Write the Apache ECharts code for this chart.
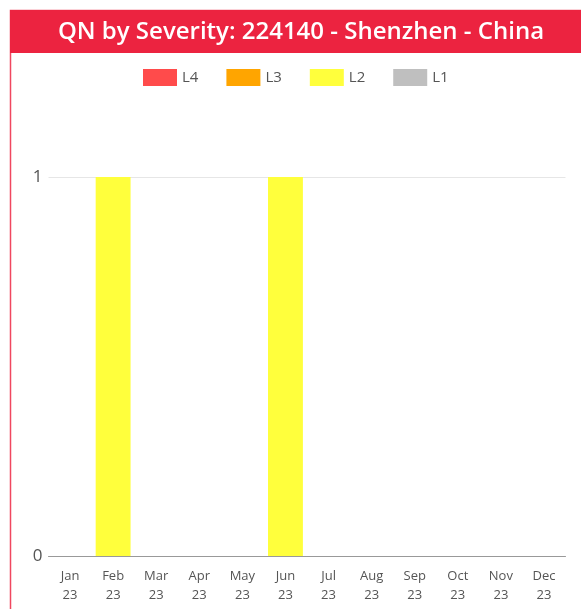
<!DOCTYPE html>
<html><head><meta charset="utf-8">
<script src="https://cdn.jsdelivr.net/npm/echarts@6/dist/echarts.min.js"></script>
<style>html,body{margin:0;padding:0;background:#fff}#c{width:581px;height:609px}</style>
</head><body><div id="c"></div>
<script>
const categories = ['Jan\n23','Feb\n23','Mar\n23','Apr\n23','May\n23','Jun\n23','Jul\n23','Aug\n23','Sep\n23','Oct\n23','Nov\n23','Dec\n23'];
const L4 = [0,0,0,0,0,0,0,0,0,0,0,0];
const L3 = [0,0,0,0,0,0,0,0,0,0,0,0];
const L2 = [0,1,0,0,0,1,0,0,0,0,0,0];
const L1 = [0,0,0,0,0,0,0,0,0,0,0,0];
const seriesNames = ['L4','L3','L2','L1'];
const seriesColors = ['#FF4B4B','#FFA500','#FFFF3C','#BFBFBF'];
const seriesData = [L4,L3,L2,L1];
const yTicks = [0,1];

const chart = echarts.init(document.getElementById('c'));
chart.setOption({
  animation:false,
  graphic:[
    {type:'rect',shape:{x:10.5,y:10.5,width:600,height:620},style:{fill:'#fff',stroke:'#F0475F',lineWidth:1.5},z:-10},
    {type:'rect',shape:{x:10,y:10,width:580,height:43},style:{fill:'#EC2340'},z:-5},
    {type:'text',x:301,y:32,style:{text:'QN by Severity: 224140 - Shenzhen - China',fill:'#fff',font:'600 24px "Open Sans", sans-serif',align:'center',verticalAlign:'middle'},z:10}
  ],
  legend:{
    top:64, left:138, itemWidth:34, itemHeight:17, itemGap:28,
    textStyle:{color:'#555',fontSize:15,fontFamily:'"Open Sans", sans-serif'},
    data:seriesNames, icon:'rect'
  },
  grid:{left:48.5,right:15.5,top:177,bottom:53,containLabel:false},
  xAxis:{type:'category',data:categories,
    axisLine:{lineStyle:{color:'#999'}},axisTick:{show:false},
    axisLabel:{color:'#555',fontSize:13,lineHeight:19,margin:11,interval:0,fontFamily:'"Open Sans", sans-serif'}},
  yAxis:{type:'value',min:0,max:1,interval:1,
    axisLabel:{color:'#555',fontSize:17,margin:6,fontFamily:'"Open Sans", sans-serif'},
    splitLine:{lineStyle:{color:'#e6e6e6'}}},
  series: seriesNames.map((n,i)=>({name:n,type:'bar',stack:'s',data:seriesData[i],itemStyle:{color:seriesColors[i]},barWidth:'81%'}))
});
</script></body></html>
